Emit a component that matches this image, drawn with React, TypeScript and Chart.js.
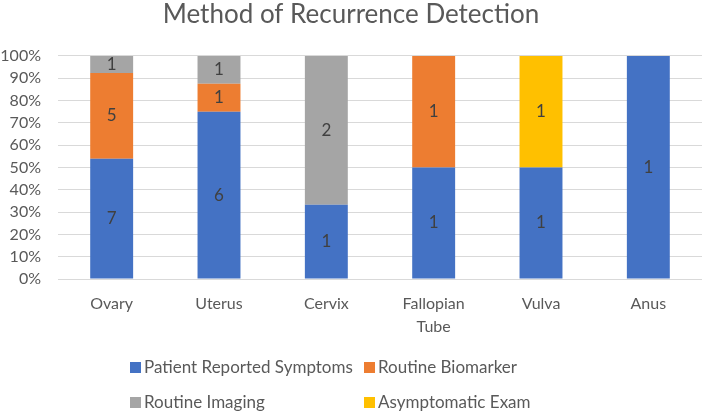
import { useEffect, useRef } from 'react';
import { Chart, registerables, Plugin } from 'chart.js';

Chart.register(...registerables);

const categories = [['Ovary'], ['Uterus'], ['Cervix'], ['Fallopian', 'Tube'], ['Vulva'], ['Anus']];
const seriesNames = ['Patient Reported Symptoms', 'Routine Biomarker', 'Routine Imaging', 'Asymptomatic Exam'];
const seriesColors = ['#4472C4', '#ED7D31', '#A5A5A5', '#FFC000'];

// counts per category
const patientReported = [7, 6, 1, 1, 1, 1];
const routineBiomarker = [5, 1, 0, 1, 0, 0];
const routineImaging = [1, 1, 2, 0, 0, 0];
const asymptomaticExam = [0, 0, 0, 0, 1, 0];

const yTicks = [0, 10, 20, 30, 40, 50, 60, 70, 80, 90, 100];

const FONT = 'Lato, "Open Sans", sans-serif';
const TEXT = '#595959';

const counts = [patientReported, routineBiomarker, routineImaging, asymptomaticExam];
const totals = categories.map((_, i) => counts.reduce((s, c) => s + c[i], 0));

// count labels in the middle of each segment
const segmentLabels: Plugin<'bar'> = {
  id: 'segmentLabels',
  afterDatasetsDraw(chart) {
    const ctx = chart.ctx;
    ctx.save();
    ctx.font = `17px ${FONT}`;
    ctx.fillStyle = '#404040';
    ctx.textAlign = 'center';
    ctx.textBaseline = 'middle';
    chart.data.datasets.forEach((ds, di) => {
      const meta = chart.getDatasetMeta(di);
      meta.data.forEach((bar: any, i) => {
        const n = counts[di][i];
        if (!n) return;
        const { x, y, base } = bar.getProps(['x', 'y', 'base'], true);
        ctx.fillText(String(n), x, (y + base) / 2);
      });
    });
    ctx.restore();
  }
};

// two-column legend like the original
const gridLegend: Plugin<'bar'> = {
  id: 'gridLegend',
  afterDraw(chart) {
    const ctx = chart.ctx;
    const cols = [130, 364];
    const rows = [367, 402];
    ctx.save();
    ctx.font = `17px ${FONT}`;
    ctx.textBaseline = 'middle';
    ctx.textAlign = 'left';
    chart.data.datasets.forEach((ds, i) => {
      const x = cols[i % 2];
      const y = rows[Math.floor(i / 2)];
      ctx.fillStyle = ds.backgroundColor as string;
      ctx.fillRect(x, y - 5, 11, 11);
      ctx.fillStyle = TEXT;
      ctx.fillText(ds.label as string, x + 14, y + 1);
    });
    ctx.restore();
  }
};

export default function App() {
  const canvasRef = useRef<HTMLCanvasElement>(null);
  const chartRef = useRef<Chart | null>(null);

  useEffect(() => {
    if (!canvasRef.current) return;

    const datasets = counts.map((c, di) => ({
      label: seriesNames[di],
      data: c.map((v, i) => (v / totals[i]) * 100),
      backgroundColor: seriesColors[di],
      barPercentage: 0.4,
      categoryPercentage: 1
    }));

    chartRef.current = new Chart(canvasRef.current, {
      type: 'bar',
      data: { labels: categories, datasets },
      options: {
        animation: false,
        responsive: true,
        maintainAspectRatio: false,
        layout: { padding: { top: 0, right: 1, bottom: 67, left: 0 } },
        scales: {
          x: {
            stacked: true,
            grid: { display: false, drawTicks: false },
            border: { display: false },
            ticks: {
              color: TEXT,
              font: { family: FONT, size: 16, lineHeight: 1.45 },
              padding: 13,
              maxRotation: 0
            },
            afterFit: (scale) => { scale.height = 66; }
          },
          y: {
            stacked: true,
            min: 0,
            max: 100,
            grid: { color: '#D9D9D9', drawTicks: false },
            border: { display: false },
            afterBuildTicks: (scale) => { scale.ticks = yTicks.map(v => ({ value: v })); },
            ticks: {
              color: TEXT,
              font: { family: FONT, size: 16 },
              padding: 17,
              callback: (v) => `${v}%`
            },
            afterFit: (scale) => { scale.width = 58; }
          }
        },
        plugins: {
          legend: { display: false },
          tooltip: { enabled: false },
          title: {
            display: true,
            text: 'Method of Recurrence Detection',
            color: TEXT,
            font: { family: FONT, size: 26, weight: 'normal', lineHeight: 1.15 },
            padding: { top: 0, bottom: 26 }
          }
        }
      },
      plugins: [segmentLabels, gridLegend]
    });

    return () => {
      chartRef.current?.destroy();
    };
  }, []);

  return (
    <div style={{ position: 'absolute', left: 0, top: 0, width: 703, height: 412, background: '#fff' }}>
      <canvas ref={canvasRef} />
    </div>
  );
}
